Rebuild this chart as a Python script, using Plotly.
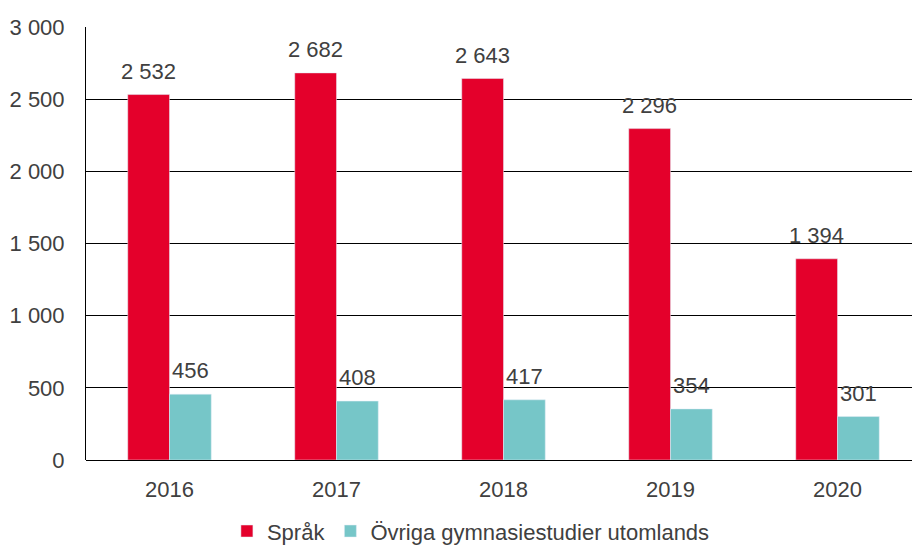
import plotly.graph_objects as go

years = ["2016", "2017", "2018", "2019", "2020"]
sprak = [2532, 2682, 2643, 2296, 1394]
ovriga = [456, 408, 417, 354, 301]

RED = "#E4002B"
TEAL = "#76C6C8"
TXT = "#404040"
FONT = "Liberation Sans, Arial, sans-serif"
FS = 22

fig = go.Figure()
fig.add_trace(go.Bar(x=years, y=sprak, name="Språk", marker_color=RED))
fig.add_trace(go.Bar(x=years, y=ovriga, name="Övriga gymnasiestudier utomlands", marker_color=TEAL))

def fmt(v):
    return f"{v:,}".replace(",", " ")

# annotations on a category axis take the category index as x
for i, v in enumerate(sprak):
    fig.add_annotation(x=i, y=v, text=fmt(v), showarrow=False, xshift=-21, yshift=9,
                       yanchor="bottom", font=dict(size=FS, color=TXT, family=FONT))
for i, v in enumerate(ovriga):
    fig.add_annotation(x=i, y=v, text=fmt(v), showarrow=False, xshift=21, yshift=9,
                       yanchor="bottom", font=dict(size=FS, color=TXT, family=FONT))

fig.update_layout(
    width=912, height=548,
    margin=dict(l=86, r=0, t=27, b=88, autoexpand=False),
    paper_bgcolor="white", plot_bgcolor="white",
    separators=", ",
    font=dict(family=FONT, size=FS, color=TXT),
    barmode="group", bargap=0.5, bargroupgap=0,
    showlegend=True,
    legend=dict(orientation="h", x=0.466, xanchor="center", y=-0.116, yanchor="top",
                font=dict(size=FS, color=TXT), itemwidth=30, traceorder="normal"),
    xaxis=dict(type="category", range=[-0.5, 4.446], showgrid=False, showline=False,
               ticks="", ticklabelstandoff=14, automargin=False,
               tickfont=dict(size=FS, color=TXT)),
    yaxis=dict(range=[0, 3000], dtick=500, tickformat=",d", showgrid=True, gridcolor="#000000",
               gridwidth=1, showline=True, linecolor="#000000", linewidth=1, zeroline=True,
               zerolinecolor="#000000", zerolinewidth=1, ticks="", ticklabelstandoff=16,
               automargin=False, tickfont=dict(size=FS, color=TXT)),
)
fig.write_html("out.html", config={"displayModeBar": False},
               post_script="document.body.style.margin='0';")
